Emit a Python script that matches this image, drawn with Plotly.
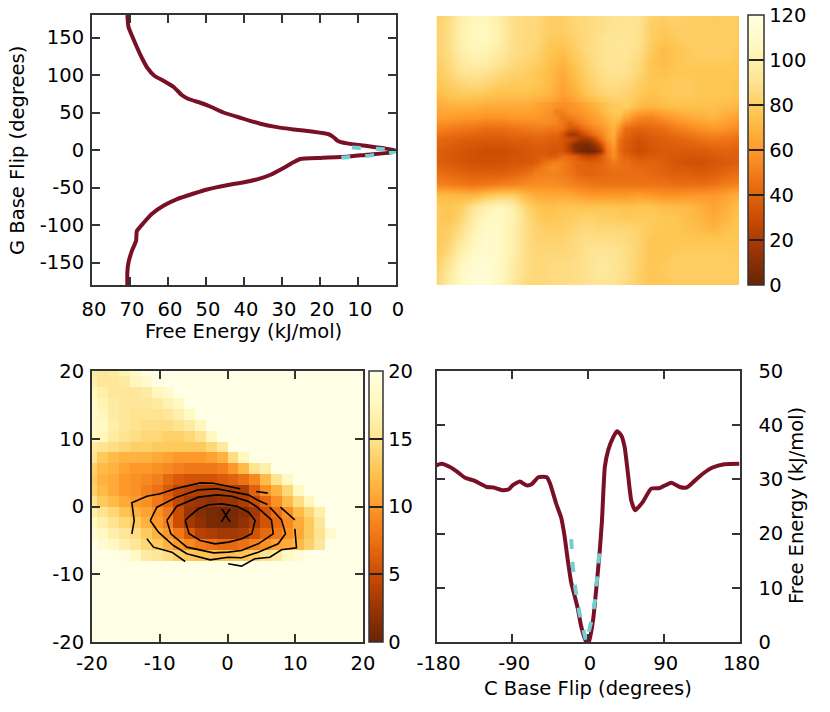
import plotly.graph_objects as go

W, H = 830, 712

# G base flip profile (free energy vs angle)
g_energy = [70.7, 70.4, 69.2, 68, 66.8, 65.5, 63.6, 61.1, 58.5, 56.3, 54.6, 51.5, 48.9, 45.4, 41, 35.7,
            31.3, 27, 21.7, 17.7, 16.4, 15.4, 12.9, 7.6, 3.2, 0, 1.5, 7.6, 12.9, 19.9, 25.2, 27, 29.6,
            33, 36.1, 40, 44.5, 49.7, 53.2, 57.6, 61.1, 64.2, 66.4, 68.2, 68.4, 69.5, 70.4, 70.7, 70.7]
g_angle = [180, 164, 149, 135, 122, 110, 99, 92, 84, 73, 68, 63, 58, 50, 43, 35,
           30.5, 27.4, 24.3, 21, 17, 12.4, 8.8, 5.3, 2.2, -0.4, -3.5, -6.2, -9, -10.5, -12, -16.4, -24,
           -33, -38.5, -43, -47, -52.6, -58, -65.5, -74, -85, -97, -108, -121, -134.5, -150, -163, -180]
g_fit_energy = [14.4, 6.9, 0.9, -0.7, 6, 11.7]
g_fit_angle = [-10.2, -7.5, -3, 0, 1.8, 3.5]

# C base flip profile
c_angle = [-180, -174, -164, -156, -146, -136, -128, -120, -112, -102, -94, -89, -81, -73, -67, -59, -49,
           -45, -38, -32, -28, -24, -20, -16, -12, -8, -2, 1, 6, 10, 14, 16.6, 20, 24, 30, 34.5, 39.5,
           43.5, 47.5, 51.4, 56, 65, 75, 85, 99, 109, 117, 125, 136, 148, 162, 180]
c_energy = [32.6, 32.9, 32.3, 31.5, 30.3, 29.8, 29.2, 28.6, 28.5, 28, 28.2, 29, 29.6, 28.9, 29.1, 30.4, 30.4,
            29.2, 25.6, 23, 19.7, 15.1, 11, 8.6, 6.1, 2.8, 0, 0, 4, 10.1, 16.9, 22.4, 32.3, 35.4, 37.8, 38.9, 38.1,
            36, 31, 26.1, 24.3, 25.8, 28.3, 28.4, 29.4, 28.6, 28.5, 29.5, 31, 32.2, 32.8, 32.9]
c_fit_angle = [-20, -18, -15, -10, -2, 4.7, 8.7, 11, 14]
c_fit_energy = [19, 13.8, 9.8, 5.2, 0, 4.3, 8, 12.5, 17.5]

# tick labels, written with a plain hyphen as in the figure
energy_ticks = [80, 70, 60, 50, 40, 30, 20, 10, 0]
g_ticks = [-150, -100, -50, 0, 50, 100, 150]
g_tick_labels = ["-150", "-100", "-50", "0", "50", "100", "150"]
zoom_ticks = [-20, -10, 0, 10, 20]
zoom_tick_labels = ["-20", "-10", "0", "10", "20"]
c_ticks = [-180, -90, 0, 90, 180]
c_tick_labels = ["-180", "-90", "0", "90", "180"]
c_energy_ticks = [0, 10, 20, 30, 40, 50]

# 2D landscape over both flips, rows from +180 down to -180
flip_axis = [-180, -165, -150, -135, -120, -105, -90, -75, -60, -45, -30, -15, 0,
             15, 30, 45, 60, 75, 90, 105, 120, 135, 150, 165, 180]
flip_rows = [
    [80, 86, 100, 104, 104, 98, 88, 86, 85, 80, 80, 84, 86, 88, 90, 90, 90, 82, 80, 82, 80, 80, 78, 80, 78],
    [82, 88, 102, 106, 106, 100, 88, 86, 84, 80, 80, 84, 86, 88, 90, 92, 90, 80, 78, 80, 80, 80, 80, 80, 78],
    [82, 88, 102, 106, 105, 100, 88, 86, 84, 78, 78, 82, 86, 90, 92, 92, 90, 80, 76, 78, 80, 80, 80, 80, 78],
    [82, 88, 100, 104, 102, 96, 88, 86, 82, 76, 74, 80, 86, 90, 92, 92, 88, 78, 72, 76, 78, 80, 80, 80, 78],
    [80, 86, 96, 100, 98, 92, 86, 84, 80, 74, 70, 78, 84, 90, 92, 90, 86, 76, 72, 76, 78, 78, 78, 78, 76],
    [78, 84, 90, 92, 90, 86, 82, 80, 76, 72, 66, 74, 82, 88, 90, 90, 84, 76, 74, 76, 76, 76, 76, 76, 76],
    [76, 80, 84, 86, 84, 80, 78, 78, 76, 72, 64, 72, 80, 86, 88, 86, 80, 76, 76, 78, 78, 76, 76, 76, 74],
    [72, 76, 78, 78, 76, 74, 74, 74, 72, 70, 62, 68, 76, 82, 84, 82, 78, 74, 76, 78, 78, 76, 76, 76, 74],
    [66, 68, 68, 68, 66, 66, 66, 66, 64, 60, 56, 60, 66, 72, 78, 80, 72, 70, 72, 74, 74, 74, 74, 72, 70],
    [62, 62, 60, 60, 58, 58, 60, 60, 60, 54, 44, 42, 56, 70, 66, 64, 54, 52, 58, 62, 66, 68, 70, 66, 62],
    [52, 50, 48, 46, 44, 44, 46, 48, 50, 46, 36, 26, 46, 64, 58, 44, 40, 42, 44, 50, 54, 58, 60, 58, 54],
    [42, 40, 38, 37, 36, 36, 38, 38, 40, 40, 34, 18, 30, 52, 62, 38, 32, 36, 38, 40, 42, 46, 48, 46, 44],
    [38, 36, 34, 32, 30, 30, 32, 34, 36, 34, 28, 8, 4, 34, 58, 36, 30, 34, 36, 36, 36, 36, 38, 40, 38],
    [38, 36, 34, 32, 32, 32, 34, 34, 38, 36, 34, 38, 38, 42, 48, 44, 40, 40, 38, 34, 32, 32, 34, 36, 38],
    [44, 42, 40, 38, 38, 38, 40, 44, 50, 52, 50, 44, 40, 42, 44, 44, 44, 42, 40, 38, 38, 36, 38, 42, 44],
    [52, 50, 48, 46, 48, 50, 52, 54, 56, 56, 54, 50, 48, 46, 46, 46, 46, 46, 46, 44, 44, 44, 46, 50, 52],
    [72, 72, 70, 70, 76, 80, 80, 72, 66, 66, 66, 64, 60, 60, 60, 60, 62, 60, 58, 58, 60, 60, 60, 64, 68],
    [78, 76, 80, 92, 102, 106, 100, 84, 76, 74, 76, 76, 76, 76, 76, 74, 76, 76, 74, 72, 72, 68, 64, 68, 74],
    [78, 76, 84, 98, 106, 108, 102, 88, 78, 76, 78, 80, 82, 80, 80, 78, 78, 78, 76, 76, 72, 70, 66, 70, 76],
    [78, 80, 88, 102, 110, 108, 100, 88, 82, 80, 80, 84, 86, 84, 84, 84, 82, 78, 76, 76, 74, 72, 70, 74, 76],
    [78, 82, 94, 106, 112, 108, 100, 88, 82, 82, 82, 86, 88, 88, 88, 86, 82, 76, 76, 76, 76, 76, 76, 76, 76],
    [78, 86, 100, 108, 112, 108, 100, 88, 84, 84, 84, 86, 90, 92, 90, 88, 82, 76, 76, 78, 78, 78, 78, 78, 78],
    [80, 92, 106, 112, 114, 108, 98, 88, 84, 86, 86, 88, 90, 94, 92, 88, 82, 76, 78, 80, 80, 80, 80, 80, 78],
    [82, 96, 108, 114, 114, 108, 96, 88, 84, 86, 86, 88, 90, 94, 92, 88, 80, 76, 78, 80, 80, 80, 80, 80, 78],
    [82, 98, 110, 114, 114, 106, 94, 86, 84, 86, 86, 88, 90, 92, 90, 86, 80, 76, 76, 78, 78, 78, 78, 78, 78],
]

# finer reading around the deep minimum, rows from +60 down to -30
core_x = [-60, -52.5, -45, -37.5, -30, -22.5, -15, -7.5, 0, 7.5, 15, 22.5, 30, 37.5, 45]
core_y = [60, 52.5, 45, 37.5, 30, 22.5, 15, 7.5, 0, -7.5, -15, -22.5, -30]
core_rows = [
    [64, 62, 60, 58, 56, 58, 60, 63, 66, 69, 72, 75, 78, 79, 80],
    [62, 60, 58, 50, 52, 56, 58, 60, 62, 66, 70, 74, 78, 78, 72],
    [60, 58, 56, 54, 46, 50, 52, 56, 60, 62, 66, 70, 74, 74, 64],
    [55, 56, 54, 52, 48, 40, 46, 50, 56, 60, 62, 66, 72, 66, 54],
    [50, 50, 48, 48, 46, 36, 34, 42, 48, 54, 58, 62, 70, 58, 44],
    [45, 44, 42, 42, 34, 18, 18, 28, 38, 46, 52, 60, 68, 52, 41],
    [40, 40, 38, 38, 34, 30, 26, 16, 18, 30, 44, 58, 66, 46, 38],
    [38, 38, 36, 36, 34, 22, 8, 6, 6, 12, 28, 50, 62, 44, 37],
    [36, 36, 34, 34, 34, 24, 10, 4, 2, 4, 14, 46, 58, 44, 36],
    [37, 38, 36, 38, 44, 42, 38, 30, 26, 28, 36, 46, 56, 46, 40],
    [38, 44, 48, 50, 50, 46, 42, 40, 38, 38, 40, 44, 50, 46, 44],
    [44, 50, 54, 54, 50, 46, 42, 40, 40, 40, 42, 44, 46, 46, 44],
    [50, 51, 52, 51, 50, 47, 44, 42, 40, 41, 42, 43, 44, 44, 44],
]

# close-up map, rows from y=20 down, cells beyond the listed ones are saturated at 20
zoom_rows = [
    [16, 15.5, 16, 17, 18],
    [16.5, 15.5, 15.5, 16, 17.5, 18.5],
    [17.5, 16.5, 15.5, 15.5, 15.5, 16, 17.5, 18.5],
    [18.5, 17, 16, 15.5, 15.5, 15.5, 16, 17, 18],
    [18.5, 17.5, 16, 15.5, 15, 15, 15, 15.5, 16.5, 18],
    [18.5, 18, 16.5, 15.5, 15, 14.5, 14.5, 14.5, 15, 16, 17.5],
    [18, 17.5, 16, 15, 14.5, 14, 14, 13.5, 13.5, 14, 15, 17.5],
    [16, 15, 14.5, 14, 13.5, 13.5, 13, 13, 13, 13, 13, 14, 16],
    [15, 13, 12, 11.5, 11.5, 11.5, 11, 10.5, 10, 10, 10, 10.5, 11.5, 14.5, 17.5],
    [13.5, 12, 11.5, 10.5, 10, 10, 9.5, 9, 8.5, 8, 8, 8, 8.5, 10, 12, 15, 16.5],
    [13, 11.5, 11, 10, 9.5, 9, 8.5, 7, 6, 5.5, 5.5, 5.5, 6, 6.5, 7.5, 9, 12, 15, 18],
    [13.5, 12, 11, 10, 9.5, 8.5, 7.5, 6, 4.5, 4, 3.5, 3.5, 3.5, 3.5, 3.5, 6.5, 9.5, 11.5, 14, 18],
    [15, 13, 12, 11, 10, 9.5, 8, 6.5, 4.5, 3, 2.5, 2, 2.5, 2.5, 3.5, 5, 7, 9.5, 12, 14.5, 17.5],
    [16.5, 15, 14, 12.5, 11.5, 10.5, 9.5, 8, 5, 2.5, 1.5, 0.8, 0.5, 0.8, 1.5, 3, 5.5, 7.5, 9.5, 12, 14, 16.5],
    [18, 16.5, 15, 14, 13, 11.5, 10, 8.5, 5, 3, 2, 1, 0.8, 1, 2, 3.5, 5.5, 7, 9, 11, 13, 15.5],
    [19, 18, 16.5, 15.5, 14.5, 13, 11.5, 10, 8, 6, 4, 3.5, 3, 3, 3.5, 5.5, 7, 8, 9.5, 11, 13, 15, 18.5],
    [20, 19, 18, 16.5, 15.5, 14, 13, 11.5, 10, 9, 8, 7.5, 7, 7, 7.5, 8.5, 9.5, 10.5, 11, 12, 13.5, 15.5],
    [20, 20, 20, 19.5, 18, 16, 15.5, 14.5, 13.5, 13, 12.5, 12.5, 12.5, 12.5, 12.5, 13.5, 15, 16, 18, 19],
]

contour_x = [
    -6.25, -5.66, -4.03, -1.82, 0.15, 2.12, 3.59, 4.08, 3.1, 1.38, -0.84, -2.8, -4.28, -5.51, -6.25, None,
    -8.95, -8.36, -6, -2.07, 0.1, 2.07, 4.53, 6.74, 6.49, 4.28, 3.1, 0.64, -1.57, -4.28, -7.48, -8.95, None,
    -11.41, -10.43, -7.48, -4.28, -1.57, 1.13, 3.05, 4.57, 5.9, None,
    6.25, 7.97, 8.56, 7.48, 4.53, 2.07, 0.1, -2.56, -6, -7.97, -10.18, -11.41, None,
    -14.12, -13.77, -14.12, -11.9, -9.94, -7.72, -4.03, -2.07, 1.87, None,
    4.23, 5.95, None,
    7.82, 9.94, None,
    9.94, 10.18, 7.97, 6.25, 4.03, 2.07, 0.1, None,
    -11.9, -10.92, -8.21, -6.25,
]
contour_y = [
    -2.07, -4.03, -5.02, -5.51, -5.26, -4.77, -4.03, -2.07, -0.84, 0.05, 0.39, 0.25, -0.34, -1.33, -2.07, None,
    -2.07, -4.03, -6, -6.84, -6.74, -6.49, -5.51, -4.03, -1.97, 0, 0.74, 1.52, 1.72, 1.38, 0.05, -2.07, None,
    -2.07, -0.1, 1.38, 2.46, 2.61, 2.12, 1.72, 0.89, 0.3, None,
    -0.1, -1.97, -4.03, -5.51, -6.74, -7.57, -7.48, -7.87, -6.98, -5.76, -3.79, -2.07, None,
    -4.03, -2.07, 0.54, 1.52, 1.87, 2.61, 3.49, 3.44, 2.61, None,
    2.21, 1.97, None,
    -0.1, -1.97, None,
    -3.3, -6.1, -6.39, -7.48, -7.72, -8.8, -8.46, None,
    -4.77, -6, -6.74, -8.12,
]

minimum_x = [-0.3]
minimum_y = [-1.67]

MAROON = "#7a1026"
TEAL = "#72cfcf"
FRAME = "#333333"
FONT = "DejaVu Sans"
TEXT_SIZE = 19.5
palette = [[0, "#662506"], [0.125, "#993404"], [0.25, "#cc4c02"], [0.375, "#ec7014"], [0.5, "#fe9929"],
           [0.625, "#fec44f"], [0.75, "#fee391"], [0.875, "#fff7bc"], [1, "#ffffe5"]]


def dom_x(left, right):
    return [left / W, right / W]


def dom_y(top, bottom):
    return [1 - bottom / H, 1 - top / H]


def frame(**kw):
    return dict(showline=True, linecolor=FRAME, linewidth=2, mirror="ticks", ticks="inside", ticklen=8,
                tickwidth=2, tickcolor=FRAME, showgrid=False, zeroline=False, tickfont=dict(size=TEXT_SIZE), **kw)


def colorbar(left, width, top, bottom, dtick):
    return dict(x=left / W, xanchor="left", xpad=0, ypad=0, thickness=width, thicknessmode="pixels",
                y=1 - bottom / H, yanchor="bottom", len=(bottom - top) / H, lenmode="fraction",
                tick0=0, dtick=dtick, ticks="inside", ticklen=width, tickwidth=1.5, tickcolor="#222222",
                outlinecolor=FRAME, outlinewidth=1.5, tickfont=dict(size=TEXT_SIZE, color="black"))


fig = go.Figure()

# top left
fig.add_trace(go.Scatter(x=g_energy, y=g_angle, mode="lines",
                         line=dict(color=MAROON, width=4, shape="spline", smoothing=0.4),
                         xaxis="x", yaxis="y", showlegend=False))
fig.add_trace(go.Scatter(x=g_fit_energy, y=g_fit_angle, mode="lines", cliponaxis=False,
                         line=dict(color=TEAL, width=4, dash="9px,15px"), xaxis="x", yaxis="y", showlegend=False))

# top right
fig.add_trace(go.Heatmap(x=flip_axis, y=flip_axis, z=flip_rows[::-1], colorscale=palette, zmin=0, zmax=120,
                         zsmooth="best", xaxis="x2", yaxis="y2",
                         colorbar=colorbar(747.5, 15.5, 15, 285, 20)))
fig.add_trace(go.Heatmap(x=core_x, y=core_y[::-1], z=core_rows[::-1], colorscale=palette, zmin=0, zmax=120,
                         zsmooth="best", xaxis="x2", yaxis="y2", showscale=False))

# bottom left
zoom_cols = 26
zoom_full = [row + [20] * (zoom_cols - len(row)) for row in zoom_rows]
zoom_full += [[20] * zoom_cols for _ in range(zoom_cols - len(zoom_full))]
fig.add_trace(go.Heatmap(x0=-20, dx=1.6, y0=20, dy=-1.6, z=zoom_full, colorscale=palette, zmin=0, zmax=20,
                         xaxis="x3", yaxis="y3", colorbar=colorbar(369, 14, 371, 642, 5)))
fig.add_trace(go.Scatter(x=contour_x, y=contour_y, mode="lines", line=dict(color="black", width=1.6),
                         connectgaps=False, xaxis="x3", yaxis="y3", showlegend=False))
fig.add_trace(go.Scatter(x=minimum_x, y=minimum_y, mode="text", text=["X"], textposition="middle center",
                         textfont=dict(size=17, color="black", family=FONT), xaxis="x3", yaxis="y3", showlegend=False))

# bottom right
fig.add_trace(go.Scatter(x=c_angle, y=c_energy, mode="lines", line=dict(color=MAROON, width=4, shape="spline", smoothing=0.5),
                         xaxis="x4", yaxis="y4", showlegend=False))
fig.add_trace(go.Scatter(x=c_fit_angle, y=c_fit_energy, mode="lines", line=dict(color=TEAL, width=4, dash="10px,13px"),
                         xaxis="x4", yaxis="y4", showlegend=False))


def label(text, x, y, angle=0):
    return dict(text=text, x=x / W, y=1 - y / H, xref="paper", yref="paper", showarrow=False, textangle=angle,
                font=dict(size=TEXT_SIZE, color="black", family=FONT), xanchor="center", yanchor="middle")


fig.update_layout(
    width=W, height=H, margin=dict(l=0, r=0, t=0, b=0, pad=0, autoexpand=False),
    paper_bgcolor="white", plot_bgcolor="white",
    font=dict(family=FONT, size=TEXT_SIZE, color="black"),
    xaxis=frame(domain=dom_x(92, 396), range=[80, 0], tickvals=energy_ticks, anchor="y", ticklabelstandoff=6,
                ticklabelshift=-2),
    yaxis=frame(domain=dom_y(15, 285), range=[-180, 180], tickvals=g_ticks, ticktext=g_tick_labels, anchor="x",
                ticklabelstandoff=2),
    xaxis2=dict(domain=dom_x(436.5, 739), range=[-180, 180], visible=False, anchor="y2"),
    yaxis2=dict(domain=dom_y(16, 285), range=[-180, 180], visible=False, anchor="x2"),
    xaxis3=frame(domain=dom_x(92, 363), range=[-20, 20], tickvals=zoom_ticks, ticktext=zoom_tick_labels, anchor="y3",
                 ticklabelstandoff=3),
    yaxis3=frame(domain=dom_y(371, 642), range=[-20, 20], tickvals=zoom_ticks, ticktext=zoom_tick_labels, anchor="x3",
                 ticklabelstandoff=2),
    xaxis4=frame(domain=dom_x(436.5, 739.5), range=[-180, 180], tickvals=c_ticks, ticktext=c_tick_labels, anchor="y4",
                 ticklabelstandoff=3, ticklabelshift=2),
    yaxis4=frame(domain=dom_y(371, 642), range=[0, 50], tickvals=c_energy_ticks, anchor="x4", side="right",
                 ticklabelstandoff=13),
    annotations=[
        label("Free Energy (kJ/mol)", 243, 331),
        label("G Base Flip (degrees)", 18, 151, -90),
        label("C Base Flip (degrees)", 588, 688),
        label("Free Energy (kJ/mol)", 796, 506, -90),
    ],
)

fig.write_html("out.html", config=dict(displayModeBar=False),
               post_script="document.body.style.margin='0';document.body.style.overflow='hidden';")
